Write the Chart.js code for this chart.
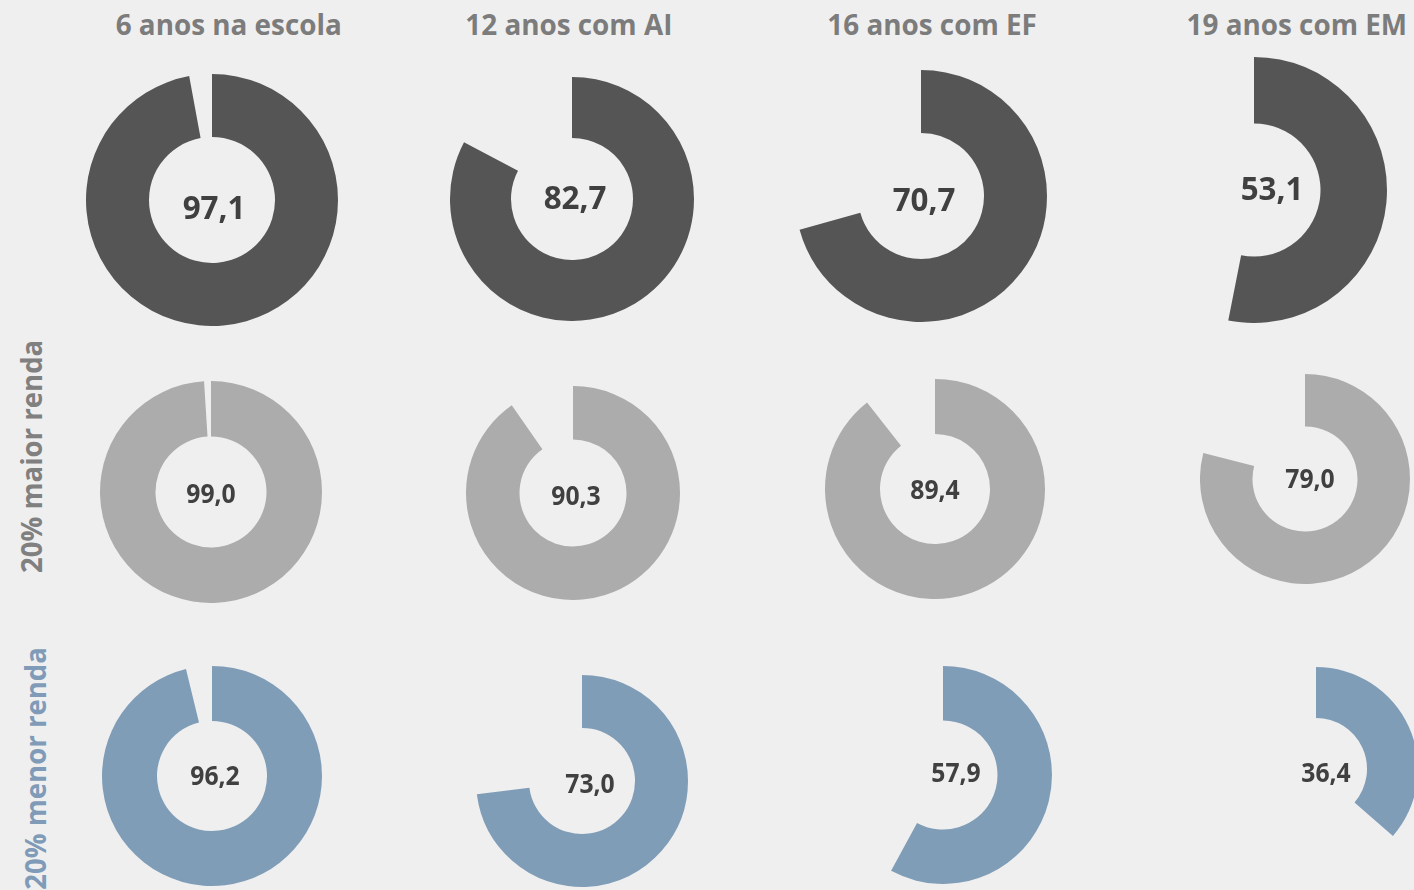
<!DOCTYPE html>
<html>
<head>
<meta charset="utf-8">
<script src="https://cdn.jsdelivr.net/npm/chart.js@4.4.1/dist/chart.umd.min.js"></script>
<style>
  html, body { margin: 0; padding: 0; }
  body {
    width: 1414px; height: 890px; overflow: hidden; position: relative;
    background: #efefef; font-family: "Open Sans", "Noto Sans", sans-serif;
  }
  canvas { position: absolute; }
  .title, .rowLabel, .value {
    position: absolute; white-space: nowrap; font-weight: 700; line-height: 1.2;
    transform-origin: center center;
  }
  .title { color: #7c7c7c; font-size: 29px; }
  .rowLabel { font-size: 29px; }
  .value { color: #404040; }
</style>
</head>
<body>
<script>
// column titles and row labels
const groups = ['6 anos na escola', '12 anos com AI', '16 anos com EF', '19 anos com EM']
const rowNames = ['', '20% maior renda', '20% menor renda']

// percentages
const totalValues = [97.1, 82.7, 70.7, 53.1]
const highIncomeValues = [99.0, 90.3, 89.4, 79.0]
const lowIncomeValues = [96.2, 73.0, 57.9, 36.4]

const rows = [
    { values: totalValues, color: '#555555', labelColor: '', fontSize: 33 },
    { values: highIncomeValues, color: '#acacac', labelColor: '#808080', fontSize: 26 },
    { values: lowIncomeValues, color: '#809db8', labelColor: '#7f9bb8', fontSize: 26 }
]

// layout: donut centre x, y, outer radius, label offset dx, dy
const layout = [
    [[212, 200, 126, 2, 7], [572, 199, 122, 3, -2], [921, 196, 126, 3, 3], [1254, 190, 133, 18, -2]],
    [[211, 492, 111, 0, 1], [573, 493, 107, 3, 2], [935, 489, 110, 0, 0], [1305, 479, 105, 5, -1]],
    [[212, 776, 110, 3, -1], [582, 781, 106, 8, 2], [943, 775, 109, 13, -3], [1316, 769, 102, 10, 3]]
]
const titleCentres = [228, 569, 932, 1297]
const rowLabelPos = [null, [32, 456], [35, 768]]

function addText(cls, text, cx, cy, extra) {
    const el = document.createElement('div')
    el.className = cls
    el.textContent = text
    document.body.appendChild(el)
    Object.assign(el.style, extra || {})
    const w = el.offsetWidth, h = el.offsetHeight
    el.style.left = (cx - w / 2) + 'px'
    el.style.top = (cy - h / 2) + 'px'
    return el
}

groups.forEach((g, i) => {
    addText('title', g, titleCentres[i], 24, { transform: 'scaleX(0.96)' })
})

rowNames.forEach((name, r) => {
    if (!name) return
    const [x, y] = rowLabelPos[r]
    addText('rowLabel', name, x, y, { color: rows[r].labelColor, transform: 'rotate(-90deg) scaleX(0.95)' })
})

rows.forEach((row, r) => {
    row.values.forEach((v, c) => {
        const [cx, cy, rad, dx, dy] = layout[r][c]
        const canvas = document.createElement('canvas')
        canvas.width = rad * 2
        canvas.height = rad * 2
        canvas.style.left = (cx - rad) + 'px'
        canvas.style.top = (cy - rad) + 'px'
        document.body.appendChild(canvas)

        new Chart(canvas, {
            type: 'doughnut',
            data: {
                labels: ['valor', 'resto'],
                datasets: [{
                    data: [v, 100 - v],
                    backgroundColor: [row.color, 'rgba(0,0,0,0)'],
                    borderWidth: 0
                }]
            },
            options: {
                responsive: false,
                animation: false,
                cutout: '50%',
                layout: { padding: 0 },
                plugins: { legend: { display: false }, tooltip: { enabled: false } }
            }
        })

        addText('value', v.toFixed(1).replace('.', ','), cx + dx, cy + dy,
            { fontSize: row.fontSize + 'px', transform: 'scaleX(0.95)' })
    })
})
</script>
</body>
</html>
